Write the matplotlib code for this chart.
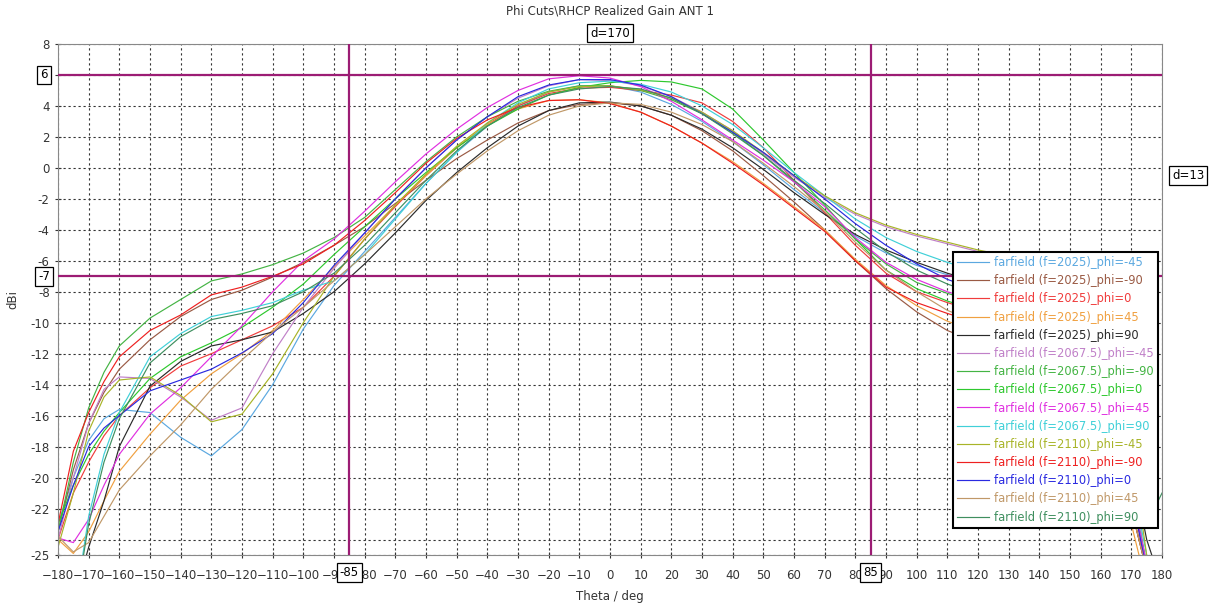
import numpy as np
import matplotlib
matplotlib.use('Agg')
import matplotlib.pyplot as plt
import matplotlib.transforms as mtransforms

# theta sample points (deg)
theta = [-180, -175, -170, -165, -160,
         -150, -140, -130, -120, -110, -100, -90, -80, -70, -60,
         -50, -40, -30, -20, -10, 0, 10, 20, 30, 40,
         50, 60, 70, 80, 90, 100, 110, 120, 130, 140,
         150, 160, 170, 175, 180]

g2025_m45 = [-23.0, -20.0, -17.6, -16.2, -15.6,
             -15.8, -17.4, -18.6, -16.9, -14.0, -10.4, -7.6, -5.4, -3.2, -1.0,
             1.0, 2.7, 4.0, 4.9, 5.3, 5.3, 4.9, 4.1, 3.0, 1.7,
             0.2, -1.4, -2.9, -4.4, -5.5, -6.3, -6.9, -7.5, -8.2, -9.0,
             -10.5, -13.5, -20.0, -26.0, -28.0]
g2025_m90 = [-23.5, -19.5, -16.5, -14.5, -13.0,
             -11.1, -9.6, -8.5, -7.9, -7.05, -6.1, -5.0, -3.8, -2.3, -0.8,
             0.6, 1.8, 2.9, 3.7, 4.1, 4.2, 4.0, 3.4, 2.4, 1.1,
             -0.5, -2.2, -4.0, -6.0, -7.8, -9.3, -10.5, -11.3, -12.0, -12.8,
             -14.0, -17.0, -22.0, -26.0, -28.0]
g2025_0 = [-24.0, -21.0, -19.0, -17.3, -16.0,
           -14.2, -12.8, -12.0, -11.1, -10.2, -9.0, -7.0, -4.6, -2.5, -0.5,
           1.3, 2.8, 4.0, 4.8, 5.15, 5.2, 5.0, 4.7, 4.2, 3.0,
           1.3, -0.8, -2.9, -5.0, -6.8, -8.0, -8.7, -9.3, -9.9, -10.6,
           -12.0, -15.5, -21.0, -26.0, -28.0]
g2025_45 = [-24.0, -24.9, -23.5, -21.5, -19.6,
            -17.2, -15.0, -13.3, -12.0, -10.5, -8.5, -6.4, -4.4, -2.4, -0.5,
            1.3, 2.8, 3.8, 4.35, 4.4, 4.2, 3.6, 2.7, 1.6, 0.4,
            -1.0, -2.5, -4.0, -5.9, -7.6, -8.9, -9.9, -10.6, -11.2, -11.9,
            -13.0, -16.0, -23.0, -27.0, -28.0]
g2025_90 = [-29.0, -28.0, -24.5, -21.5, -18.0,
            -14.1, -12.5, -11.5, -11.1, -10.6, -9.4, -8.0, -6.2, -4.2, -2.1,
            -0.3, 1.3, 2.7, 3.7, 4.2, 4.25, 4.0, 3.4, 2.5, 1.3,
            -0.1, -1.6, -3.0, -4.3, -5.3, -6.1, -6.8, -7.4, -8.0, -8.7,
            -10.0, -13.0, -19.0, -24.0, -27.0]
g2067_m45 = [-24.0, -20.0, -16.5, -14.3, -13.5,
             -13.6, -14.8, -16.3, -15.5, -12.0, -9.0, -6.5, -4.2, -2.0, 0.0,
             1.8, 3.3, 4.5, 5.3, 5.7, 5.65, 5.3, 4.6, 3.6, 2.4,
             0.9, -0.6, -1.9, -3.0, -3.8, -4.4, -4.9, -5.4, -5.8, -6.3,
             -7.5, -11.0, -19.0, -26.0, -28.0]
g2067_m90 = [-23.5, -19.0, -15.5, -13.2, -11.5,
             -9.7, -8.5, -7.3, -6.85, -6.25, -5.5, -4.5, -3.2, -1.4, 0.4,
             2.0, 3.3, 4.3, 4.95, 5.3, 5.3, 5.0, 4.4, 3.5, 2.3,
             0.8, -0.9, -2.7, -4.6, -6.2, -7.4, -8.1, -8.7, -9.3, -10.0,
             -11.5, -15.0, -21.0, -25.5, -27.0]
g2067_0 = [-23.0, -20.5, -18.5, -17.0, -15.8,
           -13.6, -12.2, -11.3, -10.3, -9.0, -7.5, -5.6, -3.8, -2.0, -0.3,
           1.3, 2.7, 3.8, 4.7, 5.2, 5.5, 5.65, 5.55, 5.1, 3.8,
           1.8, -0.3, -2.4, -4.6, -6.6, -7.8, -8.6, -9.2, -9.8, -10.5,
           -12.0, -15.0, -22.0, -26.0, -28.0]
g2067_45 = [-23.9, -24.2, -22.7, -20.5, -18.5,
            -15.9, -14.2, -12.2, -10.2, -8.0, -6.0, -4.6, -2.8, -0.9, 0.9,
            2.5, 3.9, 5.0, 5.75, 5.95, 5.8, 5.25, 4.3, 3.1, 1.8,
            0.5, -0.9, -2.5, -4.5, -6.1, -7.2, -8.0, -8.6, -9.2, -9.9,
            -11.5, -15.0, -21.0, -25.5, -27.0]
g2067_90 = [-30.0, -29.0, -22.5, -18.5, -15.8,
            -12.2, -10.7, -9.6, -9.2, -8.7, -7.9, -7.3, -5.6, -3.3, -1.0,
            1.0, 2.9, 4.2, 5.1, 5.5, 5.6, 5.4, 4.9, 4.0, 2.8,
            1.3, -0.3, -1.8, -3.3, -4.5, -5.4, -6.1, -6.7, -7.3, -8.0,
            -9.5, -13.0, -20.0, -25.0, -27.0]
g2110_m45 = [-24.5, -21.0, -17.0, -14.8, -13.7,
             -13.5, -14.7, -16.4, -15.9, -13.3, -10.0, -7.0, -4.6, -2.4, -0.4,
             1.4, 2.9, 4.1, 4.9, 5.25, 5.3, 5.05, 4.5, 3.6, 2.4,
             1.0, -0.5, -1.8, -2.9, -3.7, -4.3, -4.8, -5.3, -5.7, -6.2,
             -7.4, -10.5, -18.0, -25.0, -28.0]
g2110_m90 = [-23.0, -18.3, -15.8, -13.8, -12.2,
             -10.5, -9.5, -8.2, -7.7, -7.0, -6.2, -5.0, -3.4, -1.6, 0.3,
             1.9, 3.1, 3.9, 4.35, 4.4, 4.15, 3.6, 2.7, 1.6, 0.3,
             -1.1, -2.6, -4.1, -6.0, -7.7, -8.7, -9.4, -10.0, -10.6, -11.3,
             -12.5, -16.0, -22.0, -26.0, -28.0]
g2110_0 = [-23.5, -20.5, -18.0, -16.8, -16.0,
           -14.4, -13.7, -13.0, -11.95, -10.7, -8.7, -6.3, -4.2, -2.0, 0.0,
           1.8, 3.3, 4.6, 5.35, 5.7, 5.7, 5.35, 4.6, 3.5, 2.3,
           1.0, -0.5, -2.0, -3.6, -5.0, -6.2, -7.2, -7.9, -8.5, -9.2,
           -10.5, -14.0, -21.0, -26.0, -28.0]
g2110_45 = [-23.8, -24.8, -24.2, -22.5, -20.8,
            -18.6, -16.6, -14.3, -12.4, -10.6, -9.0, -7.3, -5.6, -3.8, -2.0,
            -0.4, 1.1, 2.4, 3.4, 4.0, 4.2, 4.1, 3.6, 2.8, 1.7,
            0.3, -1.2, -2.8, -4.8, -6.6, -8.0, -9.2, -10.0, -10.8, -11.6,
            -13.0, -16.0, -22.0, -26.0, -28.0]
g2110_90 = [-30.0, -29.0, -23.0, -19.0, -16.2,
            -12.6, -10.9, -9.8, -9.4, -8.9, -8.0, -6.8, -5.0, -2.9, -0.8,
            1.1, 2.7, 3.9, 4.7, 5.1, 5.25, 5.1, 4.5, 3.5, 2.2,
            0.8, -0.8, -2.3, -3.9, -5.4, -6.6, -7.5, -8.2, -8.9, -9.6,
            -11.0, -14.0, -20.0, -23.0, -21.0]

labels = ["farfield (f=2025)_phi=-45", "farfield (f=2025)_phi=-90",
          "farfield (f=2025)_phi=0", "farfield (f=2025)_phi=45",
          "farfield (f=2025)_phi=90", "farfield (f=2067.5)_phi=-45",
          "farfield (f=2067.5)_phi=-90", "farfield (f=2067.5)_phi=0",
          "farfield (f=2067.5)_phi=45", "farfield (f=2067.5)_phi=90",
          "farfield (f=2110)_phi=-45", "farfield (f=2110)_phi=-90",
          "farfield (f=2110)_phi=0", "farfield (f=2110)_phi=45",
          "farfield (f=2110)_phi=90"]
series = [g2025_m45, g2025_m90, g2025_0, g2025_45, g2025_90,
          g2067_m45, g2067_m90, g2067_0, g2067_45, g2067_90,
          g2110_m45, g2110_m90, g2110_0, g2110_45, g2110_90]
colors = ['#5ba8e0', '#9a5a44', '#f03c3c', '#f0a040', '#2a2a2a',
          '#c080c8', '#44b444', '#2ec82e', '#e030e0', '#40d0d8',
          '#a8b428', '#ee2020', '#2a2ae0', '#c09868', '#3f8f5f']

# marker positions
mk_x = [-85, 85]
mk_y = [6, -7]
mk_col = '#9c1c74'

fig = plt.figure(figsize=(12.14, 6.07), dpi=100)
ax = fig.add_axes([58/1214, 1-555/607, 1104/1214, 511/607])

for s, c, l in zip(series, colors, labels):
    ax.plot(theta, s, color=c, lw=0.85, label=l)

for x in mk_x:
    ax.axvline(x, color=mk_col, lw=1.6, zorder=5)
for y in mk_y:
    ax.axhline(y, color=mk_col, lw=1.6, zorder=5)

ax.set_xlim(-180, 180)
ax.set_ylim(-25, 8)
ax.set_xticks(range(-180, 181, 10))
yt = list(range(-24, 9, 2)) + [-25]
ax.set_yticks(yt)
ax.set_yticklabels(['' if v in (6, -24) else str(v) for v in yt])
ax.grid(True, color='#333333', linestyle=(0, (2, 2.5)), lw=0.8)
ax.tick_params(labelsize=8.5, colors='#333333', direction='inout', length=4)
ax.tick_params(axis='x', pad=8)
ax.tick_params(axis='y', pad=4)
for sp in ax.spines.values():
    sp.set_color('#888888')

ax.set_xlabel("Theta / deg", fontsize=8.5, color='#333333', labelpad=6)
ax.set_ylabel("dBi", fontsize=8.5, color='#333333', labelpad=8)
ax.set_title("Phi Cuts\\RHCP Realized Gain ANT 1", fontsize=8.5,
             color='#333333', pad=21)

box = dict(boxstyle='square,pad=0.25', fc='white', ec='black', lw=0.9)
tx = mtransforms.blended_transform_factory(ax.transData, ax.transAxes)
ty = mtransforms.blended_transform_factory(ax.transAxes, ax.transData)
for x in mk_x:
    ax.text(x, -0.035, str(x), transform=tx, ha='center', va='center',
            fontsize=8.5, bbox=box, clip_on=False, zorder=10)
for y in mk_y:
    ax.text(-0.0127, y, str(y), transform=ty, ha='center', va='center',
            fontsize=8.5, bbox=box, clip_on=False, zorder=10)
ax.text(np.mean(mk_x), 1.0215, "d=%d" % (mk_x[1]-mk_x[0]), transform=tx,
        ha='center', va='center', fontsize=8.5, bbox=box, clip_on=False)
ax.text(1.0236, np.mean(mk_y), "d=%d" % (mk_y[0]-mk_y[1]), transform=ty,
        ha='center', va='center', fontsize=8.5, bbox=box, clip_on=False)

leg = ax.legend(loc='upper left', bbox_to_anchor=(0.811, 0.593), fontsize=8.3,
                frameon=True, fancybox=False, framealpha=1, edgecolor='black',
                labelspacing=0.45, handlelength=2.7, handletextpad=0.5,
                borderpad=0.35, borderaxespad=0)
leg.get_frame().set_linewidth(1.5)
leg.set_zorder(20)
for t, c in zip(leg.get_texts(), colors):
    t.set_color(c)

plt.savefig('out.png', dpi=100)
